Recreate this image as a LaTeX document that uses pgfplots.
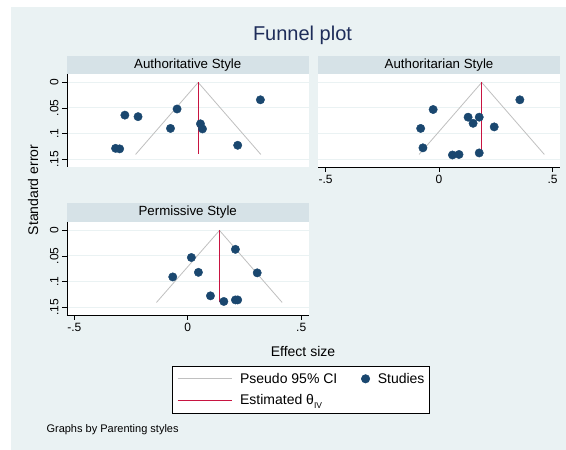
\documentclass[border=0pt]{standalone}
\usepackage{pgfplots}
\pgfplotsset{compat=1.18}
\usepackage{fontspec}
\setmainfont{Liberation Sans}
\definecolor{bgcol}{RGB}{234,242,243}
\definecolor{barcol}{RGB}{214,226,231}
\definecolor{titlecol}{RGB}{30,45,90}
\definecolor{navy}{RGB}{26,71,111}
\definecolor{cigray}{RGB}{192,192,192}
\definecolor{estred}{RGB}{200,20,65}
\pgfplotsset{
  panel/.style={
    scale only axis, width=241.5pt, height=93pt,
    xmin=-0.532, xmax=0.532, ymin=-0.0165, ymax=0.1655, y dir=reverse,
    axis background/.style={fill=white},
    ytick={0,0.05,0.1,0.15}, yticklabels={0,.05,.1,.15},
    xtick={-0.5,0,0.5}, xticklabels={-.5,0,.5},
    ymajorgrids, major grid style={color=bgcol, line width=1pt},
    axis lines*=left,
    tick align=outside, major tick length=5pt,
    tick style={black, line width=0.6pt},
    axis line style={black, line width=0.6pt},
    tick label style={font=\fontsize{12}{14}\selectfont},
    yticklabel style={rotate=90, anchor=south},
    /pgf/number format/assume math mode=true,
    clip=false,
  },
  ci/.style={color=cigray, line width=0.8pt, legend image code/.code={\draw[##1] (0pt,0pt) -- (54pt,0pt);}},
  est/.style={color=estred, line width=1.1pt, legend image code/.code={\draw[##1] (0pt,0pt) -- (54pt,0pt);}},
  stud/.style={only marks, mark=*, mark size=4.2pt, color=navy, legend image code/.code={\draw[##1] plot coordinates {(4.2pt,0pt)};}},
}
\begin{document}
\begin{tikzpicture}[x=1pt,y=1pt]
\useasboundingbox (0,0) rectangle (566,450);
\fill[white] (0,0) rectangle (566,450);
\fill[bgcol] (11,0) rectangle (566,443);
\node[text=titlecol, font=\fontsize{20}{24}\selectfont] at (302.5,415) {Funnel plot};
% panel title bars
\fill[barcol] (67,376) rectangle (308.5,394.3);
\node[font=\fontsize{13.3}{15}\selectfont] at (187.75,385.15) {Authoritative Style};
\fill[barcol] (318.3,376) rectangle (559.8,394.3);
\node[font=\fontsize{13.3}{15}\selectfont] at (439.05,385.15) {Authoritarian Style};
\fill[barcol] (67,228.3) rectangle (308.5,247.3);
\node[font=\fontsize{13.3}{15}\selectfont] at (187.75,237.8) {Permissive Style};
% axis titles
\node[rotate=90, font=\fontsize{14}{16}\selectfont] at (33,260) {Standard error};
\node[font=\fontsize{14}{16}\selectfont] at (303,99) {Effect size};
\node[anchor=west, font=\fontsize{11}{13}\selectfont] at (43,20) {Graphs by Parenting styles};

% Panel 1: Authoritative
\begin{axis}[panel, at={(67pt,283pt)}, anchor=south west,
  xticklabels={}, xtick style={draw=none}, x axis line style={draw=none}]
\addplot[ci] coordinates {(-0.230,0.141) (0.046,0) (0.322,0.141)};
\addplot[est] coordinates {(0.046,0) (0.046,0.141)};
\addplot[stud] coordinates {
(0.320,0.034) (-0.277,0.064) (-0.219,0.067) (-0.047,0.052) (-0.076,0.090)
(0.056,0.081) (0.065,0.091) (0.220,0.123) (-0.318,0.129) (-0.300,0.130)};
\end{axis}

% Panel 2: Authoritarian
\begin{axis}[panel, at={(318.3pt,283pt)}, anchor=south west,
  yticklabels={}, ytick style={draw=none}, y axis line style={draw=none}]
\addplot[ci] coordinates {(-0.088,0.141) (0.188,0) (0.464,0.141)};
\addplot[est] coordinates {(0.188,0) (0.188,0.140)};
\addplot[stud] coordinates {
(0.356,0.034) (-0.026,0.053) (0.128,0.068) (0.177,0.068) (0.150,0.080)
(-0.081,0.090) (0.243,0.087) (-0.071,0.128) (0.059,0.142) (0.088,0.141) (0.177,0.138)};
\end{axis}

% Panel 3: Permissive
\begin{axis}[panel, at={(67pt,135pt)}, anchor=south west,
  legend columns=2, legend cell align=left,
  legend style={at={(axis description cs:0.4335,-0.545)}, anchor=north west,
    draw=black, line width=0.6pt, fill=white,
    font=\fontsize{14}{16}\selectfont,
    inner xsep=5pt, inner ysep=7pt, nodes={inner sep=0pt},
    column sep=8pt, row sep=10pt,
    /tikz/every even column/.append style={column sep=24pt},
    cells={anchor=west}}]
\addplot[ci] coordinates {(-0.138,0.141) (0.140,0) (0.416,0.141)};
\addlegendentry{Pseudo 95\% CI}
\addplot[stud] coordinates {
(0.210,0.037) (0.016,0.053) (-0.066,0.091) (0.047,0.082) (0.306,0.083)
(0.100,0.128) (0.159,0.139) (0.210,0.136) (0.220,0.136)};
\addlegendentry{Studies}
\addplot[est] coordinates {(0.140,0) (0.140,0.141)};
\addlegendentry{Estimated θ\raisebox{-0.45ex}{\fontsize{8.5}{10}\selectfont IV}}
\end{axis}
\end{tikzpicture}
\end{document}
